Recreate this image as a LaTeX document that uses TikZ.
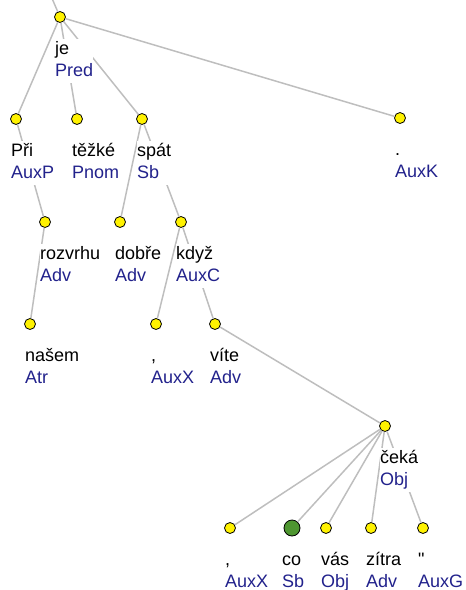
\documentclass[tikz,border=0pt]{standalone}
\usepackage{fontspec}
\setmainfont{Liberation Sans}
\newfontfamily\quotefont{Liberation Sans}
\usepackage{tikz}
\usetikzlibrary{positioning}
\definecolor{fn}{RGB}{34,34,140}
\definecolor{edgegray}{RGB}{190,190,190}
\definecolor{leafgreen}{RGB}{78,150,48}
\begin{document}
\begin{tikzpicture}[x=1pt,y=-1pt,
  tnode/.style={circle,draw=black,line width=0.8pt,fill=yellow,inner sep=0pt,minimum size=11pt},
  gnode/.style={tnode,fill=leafgreen,minimum size=16pt},
  lab/.style={anchor=north west,inner sep=0pt,fill=white,align=left,
    font=\fontsize{18}{22}\selectfont},
  dep/.style={draw=edgegray,line width=1.5pt}]
\useasboundingbox (0,0) rectangle (466,590);
\coordinate (top) at (51,-4);
\node[tnode] (je) at (60,17) {};
\node[tnode] (Pri) at (16,119) {};
\node[tnode] (tezke) at (77,119) {};
\node[tnode] (spat) at (142,119) {};
\node[tnode] (tecka) at (400,118) {};
\node[tnode] (rozvrhu) at (45,222) {};
\node[tnode] (dobre) at (120,222) {};
\node[tnode] (kdyz) at (181,222) {};
\node[tnode] (nasem) at (30,324) {};
\node[tnode] (carka) at (156,324) {};
\node[tnode] (vite) at (215,324) {};
\node[tnode] (ceka) at (385,426) {};
\node[tnode] (carkaB) at (230,528) {};
\node[gnode] (co) at (292,528) {};
\node[tnode] (vas) at (326,528) {};
\node[tnode] (zitra) at (371,528) {};
\node[tnode] (uvoz) at (423,528) {};
\path[dep]
(top) edge (je)
(je) edge (Pri)
(je) edge (tezke)
(je) edge (spat)
(je) edge (tecka)
(Pri) edge (rozvrhu)
(rozvrhu) edge (nasem)
(spat) edge (dobre)
(spat) edge (kdyz)
(kdyz) edge (carka)
(kdyz) edge (vite)
(vite) edge (ceka)
(ceka) edge (carkaB)
(ceka) edge (co)
(ceka) edge (vas)
(ceka) edge (zitra)
(ceka) edge (uvoz);
\node[lab] (jeL) at (55,38.5) {\strut je\\\strut\textcolor{fn}{Pred}};
\node[lab] (PriL) at (11,140.5) {\strut Při\\\strut\textcolor{fn}{AuxP}};
\node[lab] (tezkeL) at (72,140.5) {\strut těžké\\\strut\textcolor{fn}{Pnom}};
\node[lab] (spatL) at (137,140.5) {\strut spát\\\strut\textcolor{fn}{Sb}};
\node[lab] (teckaL) at (395,139.5) {\strut .\\\strut\textcolor{fn}{AuxK}};
\node[lab] (rozvrhuL) at (40,243.5) {\strut rozvrhu\\\strut\textcolor{fn}{Adv}};
\node[lab] (dobreL) at (115,243.5) {\strut dobře\\\strut\textcolor{fn}{Adv}};
\node[lab] (kdyzL) at (176,243.5) {\strut když\\\strut\textcolor{fn}{AuxC}};
\node[lab] (nasemL) at (25,345.5) {\strut našem\\\strut\textcolor{fn}{Atr}};
\node[lab] (carkaL) at (151,345.5) {\strut ,\\\strut\textcolor{fn}{AuxX}};
\node[lab] (viteL) at (210,345.5) {\strut víte\\\strut\textcolor{fn}{Adv}};
\node[lab] (cekaL) at (380,447.5) {\strut čeká\\\strut\textcolor{fn}{Obj}};
\node[lab] (carkaBL) at (225,549.5) {\strut ,\\\strut\textcolor{fn}{AuxX}};
\node[lab] (coL) at (282,549.5) {\strut co\\\strut\textcolor{fn}{Sb}};
\node[lab] (vasL) at (321,549.5) {\strut vás\\\strut\textcolor{fn}{Obj}};
\node[lab] (zitraL) at (366,549.5) {\strut zítra\\\strut\textcolor{fn}{Adv}};
\node[lab] (uvozL) at (418,549.5) {\strut{\quotefont"}\\\strut\textcolor{fn}{AuxG}};
\end{tikzpicture}
\end{document}
